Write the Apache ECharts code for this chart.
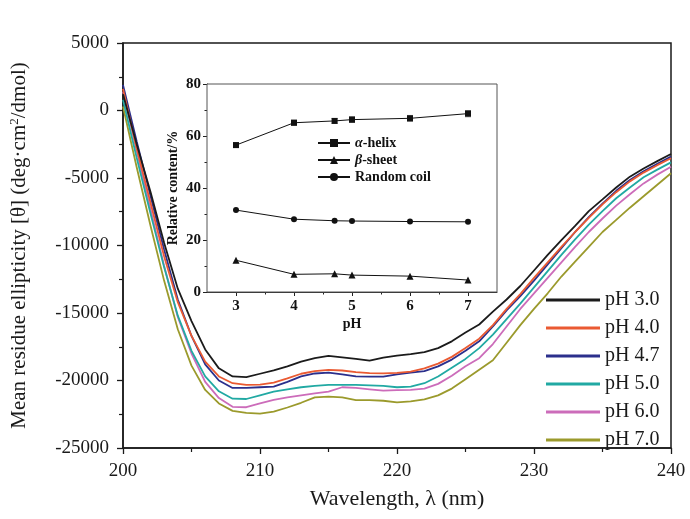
<!DOCTYPE html>
<html><head><meta charset="utf-8">
<script src="https://cdn.jsdelivr.net/npm/echarts@6/dist/echarts.min.js"></script>
<style>html,body{margin:0;padding:0;background:#fff}#c{width:690px;height:519px}</style>
</head><body><div id="c"></div><script>
const wavelength = [200,201,202,203,204,205,206,207,208,209,210,211,212,213,214,215,216,217,218,219,220,221,222,223,224,225,226,227,228,229,230,231,232,233,234,235,236,237,238,239,240];
const ph30 = [1200,-2500,-6000,-9800,-13200,-15600,-17700,-19100,-19700,-19750,-19500,-19250,-18950,-18600,-18350,-18180,-18280,-18400,-18530,-18300,-18150,-18050,-17900,-17600,-17100,-16450,-15850,-14900,-14000,-13000,-11850,-10700,-9600,-8550,-7450,-6580,-5700,-4900,-4300,-3750,-3220];
const ph40 = [1600,-2800,-6800,-10800,-14200,-16700,-18600,-19700,-20200,-20330,-20300,-20160,-19850,-19500,-19300,-19220,-19260,-19380,-19450,-19470,-19430,-19350,-19100,-18750,-18250,-17600,-16900,-15900,-14700,-13600,-12400,-11250,-10100,-9000,-7950,-6950,-6050,-5250,-4600,-4050,-3540];
const ph47 = [1900,-2300,-6300,-10300,-14000,-16700,-18800,-20000,-20550,-20550,-20500,-20450,-20100,-19700,-19480,-19420,-19550,-19700,-19720,-19720,-19550,-19420,-19300,-18950,-18450,-17800,-17100,-16000,-14800,-13750,-12600,-11400,-10200,-9000,-7900,-6900,-5950,-5150,-4500,-3950,-3420];
const ph50 = [800,-3500,-7600,-11600,-15200,-17800,-19700,-20800,-21350,-21370,-21100,-20830,-20650,-20500,-20400,-20330,-20320,-20330,-20360,-20400,-20500,-20450,-20200,-19700,-19050,-18400,-17600,-16600,-15450,-14300,-13100,-11900,-10700,-9550,-8450,-7450,-6500,-5700,-4950,-4380,-3840];
const ph60 = [1400,-3000,-7300,-11500,-15300,-18000,-20100,-21300,-21950,-21980,-21700,-21440,-21250,-21100,-20950,-20830,-20500,-20550,-20650,-20750,-20720,-20690,-20600,-20250,-19650,-18950,-18350,-17300,-16000,-14700,-13550,-12400,-11250,-10100,-9000,-8000,-7050,-6200,-5400,-4750,-4160];
const ph70 = [300,-4200,-8500,-12600,-16200,-18900,-20700,-21700,-22250,-22400,-22450,-22300,-22000,-21650,-21250,-21200,-21250,-21450,-21450,-21500,-21620,-21550,-21400,-21100,-20600,-19900,-19200,-18500,-17200,-15900,-14700,-13540,-12300,-11200,-10100,-9000,-8100,-7200,-6350,-5500,-4650];
const seriesNames = ['pH 3.0','pH 4.0','pH 4.7','pH 5.0','pH 6.0','pH 7.0'];
const seriesValues = [ph30, ph40, ph47, ph50, ph60, ph70];
const colors = ['#1b1b1b','#ea5a32','#2b2f8c','#21a9a3','#cc6cba','#9b9a2c'];

const insetPH = [3,4,4.7,5,6,7];
const alphaHelix = [56.5,65.1,65.8,66.3,66.8,68.6];
const alphaErr = [0.9,1.0,0.9,1.1,1.1,1.2];
const betaSheet = [12.2,6.8,7.0,6.5,6.1,4.6];
const randomCoil = [31.5,28.0,27.4,27.3,27.1,27.0];
const insetNames = ['α-helix','β-sheet','Random coil'];

const serif = 'Liberation Serif, Times New Roman, serif';
const axisCol = '#1a1a1a';
const chart = echarts.init(document.getElementById('c'));

const mainSeries = seriesNames.map((n,i)=>({
  name:n, type:'line', xAxisIndex:0, yAxisIndex:0, symbol:'none',
  data: wavelength.map((w,j)=>[w, seriesValues[i][j]]),
  lineStyle:{color:colors[i], width:1.8}, itemStyle:{color:colors[i]}, z:3 + (5-i)
}));

const insetLine = (name, vals, sym, size)=>({
  name, type:'line', xAxisIndex:1, yAxisIndex:1, symbol:sym, symbolSize:size,
  data: insetPH.map((p,j)=>[p, vals[j]]),
  lineStyle:{color:'#111', width:1}, itemStyle:{color:'#111'}, z:10
});

const errSeries = {
  type:'custom', xAxisIndex:1, yAxisIndex:1, z:9, silent:true,
  data: insetPH.map((p,j)=>[p, alphaHelix[j]-alphaErr[j], alphaHelix[j]+alphaErr[j]]),
  renderItem:(params, api)=>{
    const lo = api.coord([api.value(0), api.value(1)]);
    const hi = api.coord([api.value(0), api.value(2)]);
    const st = {stroke:'#777', lineWidth:1};
    return {type:'group', children:[
      {type:'line', shape:{x1:lo[0],y1:lo[1],x2:hi[0],y2:hi[1]}, style:st},
      {type:'line', shape:{x1:lo[0]-3,y1:lo[1],x2:lo[0]+3,y2:lo[1]}, style:st},
      {type:'line', shape:{x1:hi[0]-3,y1:hi[1],x2:hi[0]+3,y2:hi[1]}, style:st}
    ]};
  }
};

chart.setOption({
  animation:false,
  backgroundColor:'#fff',
  grid:[
    {left:123, right:19, top:43, bottom:71, show:true, borderColor:axisCol, borderWidth:1.5, backgroundColor:'transparent'},
    {left:207, right:193, top:84, bottom:227, show:true, borderColor:'#555', borderWidth:1, backgroundColor:'#fff', z:1}
  ],
  xAxis:[
    {type:'value', gridIndex:0, min:200, max:240, interval:10,
     name:'Wavelength, λ (nm)', nameLocation:'middle', nameGap:40,
     nameTextStyle:{fontFamily:serif, fontSize:22, color:'#1a1a1a'},
     axisLine:{show:true, onZero:false, lineStyle:{color:axisCol, width:1.5}},
     axisTick:{show:true, inside:false, length:6, lineStyle:{color:axisCol, width:1.3}},
     minorTick:{show:true, splitNumber:2, length:4, lineStyle:{color:axisCol, width:1.2}},
     axisLabel:{fontFamily:serif, fontSize:19, color:'#1a1a1a', margin:14},
     splitLine:{show:false}},
    {type:'value', gridIndex:1, min:2.5, max:7.5,
     name:'pH', nameLocation:'middle', nameGap:25,
     nameTextStyle:{fontFamily:serif, fontSize:14, fontWeight:'bold', color:'#111'},
     axisLine:{show:true, onZero:false, lineStyle:{color:'#222', width:1}},
     axisTick:{show:true, length:4, customValues:[3,4,5,6,7], lineStyle:{color:'#222'}},
     axisLabel:{fontFamily:serif, fontSize:15, fontWeight:'bold', color:'#111', margin:7, customValues:[3,4,5,6,7]},
     splitLine:{show:false}},
    {type:'value', gridIndex:1, min:2.5, max:7.5, position:'bottom',
     axisLine:{show:false, onZero:false},
     axisTick:{show:true, length:2.5, customValues:[3.5,4.5,5.5,6.5], lineStyle:{color:'#222'}},
     axisLabel:{show:false}, splitLine:{show:false}}
  ],
  yAxis:[
    {type:'value', gridIndex:0, min:-25000, max:5000, interval:5000,
     name:'Mean residue ellipticity [θ] (deg·cm{sup|2}/dmol)', nameLocation:'middle', nameGap:92,
     nameTextStyle:{fontFamily:serif, fontSize:21, color:'#1a1a1a',
       rich:{sup:{fontFamily:serif, fontSize:13, color:'#1a1a1a', verticalAlign:'top', padding:[0,0,10,0]}}},
     axisLine:{show:true, onZero:false, lineStyle:{color:axisCol, width:1.5}},
     axisTick:{show:true, inside:false, length:6, lineStyle:{color:axisCol, width:1.3}},
     minorTick:{show:true, splitNumber:2, length:4, lineStyle:{color:axisCol, width:1.2}},
     axisLabel:{fontFamily:serif, fontSize:19, color:'#1a1a1a', margin:14, formatter:(v)=>String(v)},
     splitLine:{show:false}},
    {type:'value', gridIndex:1, min:0, max:80, interval:20,
     name:'Relative content/%', nameLocation:'middle', nameGap:27,
     nameTextStyle:{fontFamily:serif, fontSize:14, fontWeight:'bold', color:'#111'},
     axisLine:{show:true, onZero:false, lineStyle:{color:'#222', width:1}},
     axisTick:{show:true, length:4, lineStyle:{color:'#222'}},
     minorTick:{show:true, splitNumber:2, length:2.5, lineStyle:{color:'#222'}},
     axisLabel:{fontFamily:serif, fontSize:15, fontWeight:'bold', color:'#111', margin:6},
     splitLine:{show:false}}
  ],
  legend:[
    {data:seriesNames.map(n=>({name:n, icon:'rect'})), orient:'vertical', left:541, top:285, itemWidth:54, itemHeight:3, itemGap:8,
     textStyle:{fontFamily:serif, fontSize:20, color:'#1a1a1a'}},
    {data:insetNames, orient:'vertical', left:312, top:131, itemWidth:32, itemHeight:10, itemGap:3,
     textStyle:{fontFamily:serif, fontSize:14, fontWeight:'bold', color:'#111',
       rich:{i:{fontFamily:serif, fontSize:14, fontWeight:'bold', fontStyle:'italic', color:'#111'}}},
     formatter:(n)=> n==='α-helix' ? '{i|α}-helix' : (n==='β-sheet' ? '{i|β}-sheet' : n)}
  ],
  series:[...mainSeries,
    errSeries,
    insetLine('α-helix', alphaHelix, 'rect', 6),
    insetLine('β-sheet', betaSheet, 'triangle', 7),
    insetLine('Random coil', randomCoil, 'circle', 6)
  ]
});
</script></body></html>
